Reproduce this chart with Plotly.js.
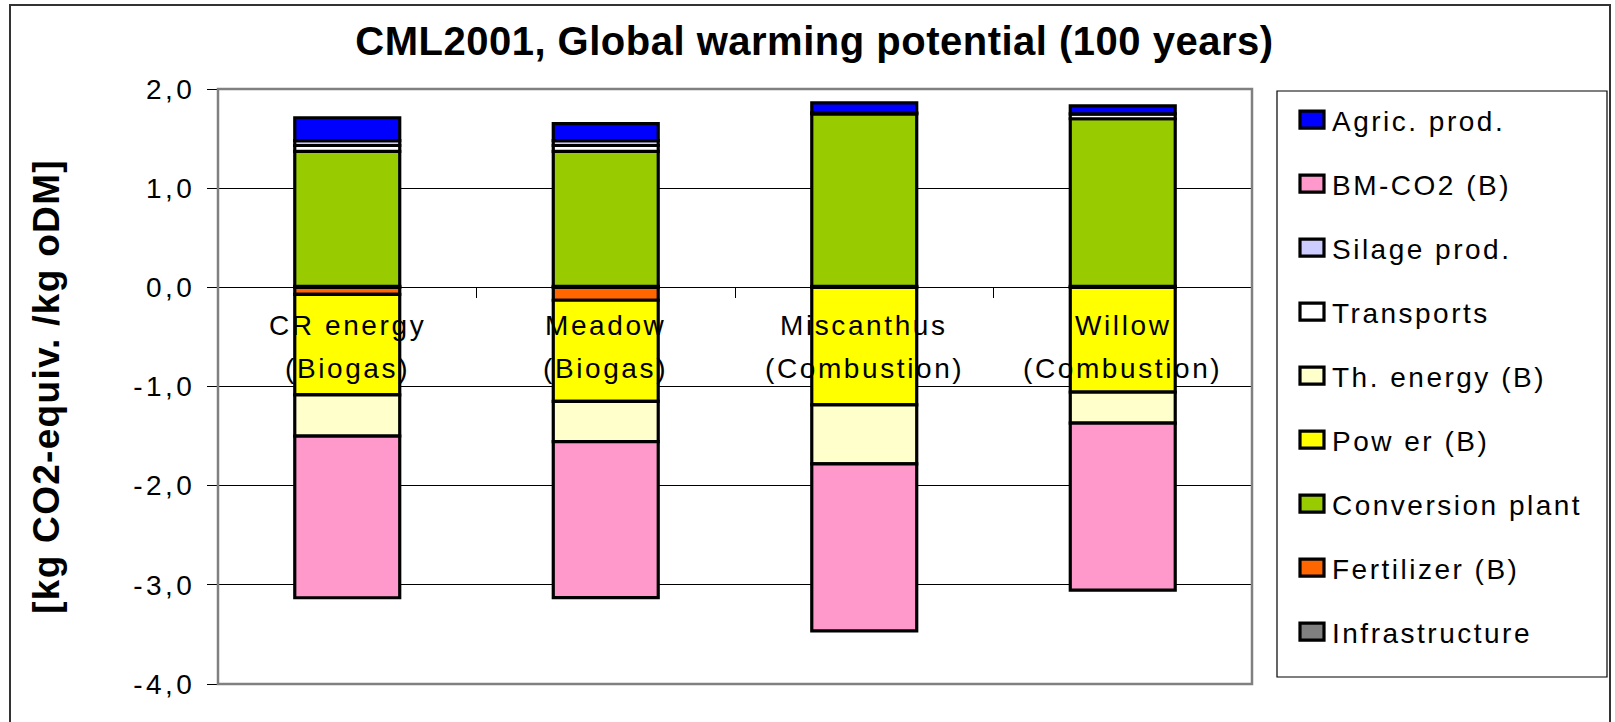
<!DOCTYPE html>
<html>
<head>
<meta charset="utf-8">
<script src="https://cdn.plot.ly/plotly-3.0.1.min.js"></script>
<style>
  html, body { margin: 0; padding: 0; background: #fff; }
  #chart { width: 1615px; height: 722px; }
  .gtitle { letter-spacing: 0.5px; }
  .ytick text { letter-spacing: 3.5px; }
  .legendtext { letter-spacing: 2.5px; }
  .annotation-text { letter-spacing: 2.6px; }
  .ytitle { letter-spacing: 1.3px; }
</style>
</head>
<body>
<div id="chart"></div>
<script>
// ---- data ----
var categories = ['CR energy (Biogas)', 'Meadow (Biogas)', 'Miscanthus (Combustion)', 'Willow (Combustion)'];
var catLine1 = ['CR energy', 'Meadow', 'Miscanthus', 'Willow'];
var catLine2 = ['(Biogas)', '(Biogas)', '(Combustion)', '(Combustion)'];

// series in stacking order (bottom to top)
var infrastructure = [0.01, 0.01, 0.01, 0.01];
var fertilizer     = [-0.07, -0.13, 0, 0];
var conversion     = [1.36, 1.36, 1.74, 1.69];
var power          = [-1.015, -1.02, -1.186, -1.057];
var thEnergy       = [-0.415, -0.406, -0.594, -0.313];
var transports     = [0.06, 0.06, 0.01, 0.05];
var silage         = [0.05, 0.05, 0, 0];
var bmco2          = [-1.63, -1.572, -1.685, -1.684];
var agric          = [0.23, 0.17, 0.10, 0.08];

var seriesNames = ['Infrastructure', 'Fertilizer (B)', 'Conversion plant', 'Pow er (B)', 'Th. energy (B)',
                   'Transports', 'Silage prod.', 'BM-CO2 (B)', 'Agric. prod.'];
var seriesValues = [infrastructure, fertilizer, conversion, power, thEnergy, transports, silage, bmco2, agric];
var seriesColors = ['#808080', '#FF6600', '#99CC00', '#FFFF00', '#FFFFCC', '#FFFFFF', '#CCCCFF', '#FF99CC', '#0000FF'];

var yTickVals = [-4, -3, -2, -1, 0, 1, 2];
var yTickLabels = ['-4,0', '-3,0', '-2,0', '-1,0', '0,0', '1,0', '2,0'];

// ---- traces ----
var traces = seriesNames.map(function (name, i) {
  return {
    type: 'bar',
    name: name,
    legendgroup: 'g' + i,
    legendrank: seriesNames.length - i,
    x: categories,
    y: seriesValues[i],
    marker: { color: seriesColors[i], line: { color: '#000', width: 3.2 } },
    hoverinfo: 'name+y'
  };
});

// pixel helpers for layout placement (plot area 218..1252 x 89..684)
var PL = 218, PR = 1252, PT = 89, PB = 684;
function px(x) { return (x - PL) / (PR - PL); }
function py(y) { return (PB - y) / (PB - PT); }

var FONT = 'Liberation Sans, Arial, sans-serif';

var annotations = [];
categories.forEach(function (c, i) {
  annotations.push({ x: c, y: -0.385, xref: 'x', yref: 'y', text: catLine1[i], showarrow: false,
    xanchor: 'center', yanchor: 'middle', font: { family: FONT, size: 28, color: '#000' } });
  annotations.push({ x: c, y: -0.814, xref: 'x', yref: 'y', text: catLine2[i], showarrow: false,
    xanchor: 'center', yanchor: 'middle', font: { family: FONT, size: 28, color: '#000' } });
});

var layout = {
  width: 1615, height: 722,
  margin: { l: PL, r: 1615 - PR, t: PT, b: 722 - PB, pad: 0 },
  paper_bgcolor: '#fff', plot_bgcolor: '#fff',
  barmode: 'relative',
  bargap: 0.594,
  showlegend: true,
  title: {
    text: 'CML2001, Global warming potential (100 years)',
    x: 0.5043, xref: 'container', xanchor: 'center',
    y: 1 - 41 / 722, yref: 'container', yanchor: 'middle',
    font: { family: FONT, size: 40, color: '#000', weight: 'bold' }
  },
  font: { family: FONT, color: '#000' },
  xaxis: {
    type: 'category',
    anchor: 'free', position: 4 / 6,
    showline: false, showgrid: false, zeroline: false,
    ticks: 'outside', tickson: 'boundaries', ticklen: 10, tickwidth: 1, tickcolor: '#000',
    showticklabels: false, fixedrange: true
  },
  yaxis: {
    range: [-4, 2], autorange: false,
    tickvals: yTickVals, ticktext: yTickLabels,
    ticks: 'outside', ticklen: 10, tickwidth: 1, tickcolor: '#000',
    tickfont: { family: FONT, size: 28, color: '#000' },
    ticklabelstandoff: 6,
    showgrid: true, gridcolor: '#000', gridwidth: 1,
    zeroline: true, zerolinecolor: '#000', zerolinewidth: 1,
    showline: false,
    title: { text: '[kg CO2-equiv. /kg oDM]', standoff: 62,
             font: { family: FONT, size: 37, color: '#000', weight: 'bold' } },
    fixedrange: true
  },
  legend: {
    x: px(1292), y: py(95), xanchor: 'left', yanchor: 'top',
    traceorder: 'grouped', tracegroupgap: 24.6,
    bgcolor: 'rgba(0,0,0,0)', borderwidth: 0,
    font: { family: FONT, size: 28, color: '#000' },
    itemclick: false, itemdoubleclick: false
  },
  shapes: [
    // plot area frame
    { type: 'rect', xref: 'paper', yref: 'paper', x0: 0, x1: 1, y0: 0, y1: 1,
      line: { color: '#808080', width: 2.5 }, fillcolor: 'rgba(0,0,0,0)', layer: 'above' },
    // legend box
    { type: 'rect', xref: 'paper', yref: 'paper', x0: px(1277), x1: px(1607), y0: py(677), y1: py(91),
      line: { color: '#000', width: 1.2 }, fillcolor: 'rgba(0,0,0,0)', layer: 'above' },
    // outer chart border
    { type: 'rect', xref: 'paper', yref: 'paper', x0: px(10), x1: px(1610), y0: py(740), y1: py(5),
      line: { color: '#333', width: 2 }, fillcolor: 'rgba(0,0,0,0)', layer: 'above' }
  ],
  annotations: annotations
};

Plotly.newPlot('chart', traces, layout, { displayModeBar: false }).then(function () {
  // larger legend swatches like the original
  document.querySelectorAll('.legendpoints path').forEach(function (p) {
    p.setAttribute('d', 'M12,8.5H-12V-8.5H12Z');
  });
});
</script>
</body>
</html>
